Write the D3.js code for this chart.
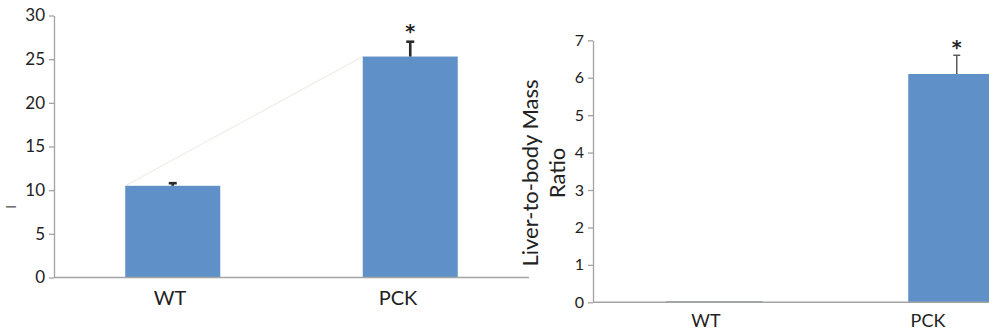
<!DOCTYPE html>
<html>
<head>
<meta charset="utf-8">
<script src="https://cdn.jsdelivr.net/npm/d3@7"></script>
<style>
  html, body { margin: 0; padding: 0; background: #fff; }
  svg { display: block; font-family: Lato, "Open Sans", sans-serif; }
</style>
</head>
<body>
<svg id="chart" width="989" height="333"></svg>
<script>
// Panel A: unlabeled measure, WT vs PCK
const groups = ["WT", "PCK"];
const leftValues = [10.5, 25.3];
const leftErrors = [0.3, 1.7];
const leftSignif = ["", "*"];
const leftTicks = [0, 5, 10, 15, 20, 25, 30];

// Panel B: liver-to-body mass ratio
const rightValues = [0.03, 6.1];
const rightErrors = [0, 0.5];
const rightSignif = ["", "*"];
const rightTicks = [0, 1, 2, 3, 4, 5, 6, 7];
const rightTitle = ["Liver-to-body Mass", "Ratio"];

const svg = d3.select("#chart");
const barColor = "#5f90c8";
const axisColor = "#a3a3a3";
const textColor = "#222";

function drawPanel(opt) {
  const g = svg.append("g");
  const y = d3.scaleLinear().domain(opt.domain).range([opt.y0, opt.y1]);
  const x = d3.scalePoint().domain(groups).range(opt.xRange).padding(0.5);
  const xl = d3.scalePoint().domain(groups).range(opt.labelRange).padding(0.5);
  const bw = x.step() * 0.4;

  // optional faint connector between bar tops
  if (opt.connector) {
    g.append("line")
      .attr("x1", x(groups[0]) - bw / 2).attr("y1", y(opt.values[0]))
      .attr("x2", x(groups[1]) - bw / 2).attr("y2", y(opt.values[1]))
      .attr("stroke", "#f1ecea").attr("stroke-width", 1.2);
  }

  // bars
  g.selectAll("rect.bar").data(groups).join("rect")
    .attr("class", "bar")
    .attr("x", d => x(d) - bw / 2)
    .attr("width", bw)
    .attr("y", (d, i) => y(opt.values[i]))
    .attr("height", (d, i) => Math.max(y(0) - y(opt.values[i]), opt.minH || 0))
    .attr("fill", (d, i) => (opt.thinColor && opt.values[i] < 0.1) ? opt.thinColor : barColor);

  // error bars
  groups.forEach((d, i) => {
    const e = opt.errors[i];
    if (!e) return;
    const cx = x(d);
    const top = y(opt.values[i] + e);
    g.append("line").attr("x1", cx).attr("x2", cx)
      .attr("y1", y(opt.values[i])).attr("y2", top)
      .attr("stroke", opt.errColor).attr("stroke-width", opt.errWidth);
    g.append("line").attr("x1", cx - opt.capW / 2).attr("x2", cx + opt.capW / 2)
      .attr("y1", top).attr("y2", top)
      .attr("stroke", opt.errColor).attr("stroke-width", opt.errWidth);
    if (opt.signif[i]) {
      g.append("text").attr("x", cx).attr("y", top - opt.starGap)
        .attr("text-anchor", "middle")
        .attr("font-family", "DejaVu Sans, sans-serif")
        .attr("font-size", 19).attr("font-weight", "bold")
        .attr("fill", textColor).text(opt.signif[i]);
    }
  });

  // y axis
  const yAxis = d3.axisLeft(y).tickValues(opt.ticks).tickFormat(d3.format("d"))
    .tickSize(5).tickPadding(4).tickSizeOuter(0);
  const ya = g.append("g").attr("transform", `translate(${opt.xAxisStart},0)`).call(yAxis);
  ya.select(".domain").attr("stroke", axisColor).attr("stroke-width", 1.3);
  ya.selectAll(".tick line").attr("stroke", axisColor).attr("stroke-width", 1.3);
  ya.selectAll(".tick text").attr("font-size", opt.tickFont).attr("fill", textColor)
    .attr("font-family", "Lato, sans-serif");

  // x baseline
  g.append("line")
    .attr("x1", opt.xAxisStart).attr("x2", opt.xAxisEnd)
    .attr("y1", y(0)).attr("y2", y(0))
    .attr("stroke", axisColor).attr("stroke-width", 1.5);

  // category labels
  g.selectAll("text.cat").data(groups).join("text")
    .attr("class", "cat")
    .attr("x", d => xl(d))
    .attr("y", y(0) + opt.labelDy)
    .attr("text-anchor", "middle")
    .attr("font-size", opt.labelFont)
    .attr("fill", textColor)
    .text(d => d);
  return { g, x, y };
}

drawPanel({
  domain: [0, 30], y0: 277.5, y1: 15.5,
  xRange: [54, 529], labelRange: [56, 512],
  xAxisStart: 54, xAxisEnd: 529,
  values: leftValues, errors: leftErrors, signif: leftSignif, ticks: leftTicks,
  errColor: "#2b2b2b", errWidth: 2.6, capW: 8, starGap: 4,
  tickFont: 17, labelFont: 20, labelDy: 27, connector: true
});

drawPanel({
  domain: [0, 7], y0: 302.3, y1: 40.3,
  xRange: [593, 1078], labelRange: [595, 1039],
  xAxisStart: 593, xAxisEnd: 989,
  values: rightValues, errors: rightErrors, signif: rightSignif, ticks: rightTicks,
  errColor: "#5a5a5a", errWidth: 1.5, capW: 7, starGap: 1,
  tickFont: 16, labelFont: 18, labelDy: 25, minH: 1.5, thinColor: "#8d97a8"
});

// rotated y-axis title of panel B
const title = svg.append("text")
  .attr("transform", "translate(545,173) rotate(-90)")
  .attr("text-anchor", "middle")
  .attr("font-size", 22)
  .attr("fill", textColor);
title.selectAll("tspan").data(rightTitle).join("tspan")
  .attr("x", 0)
  .attr("dy", (d, i) => i === 0 ? -7 : 27)
  .text(d => d);

// small clipped glyph left of panel A's axis
svg.append("text")
  .attr("transform", "translate(16,207) rotate(-90)")
  .attr("text-anchor", "middle")
  .attr("font-size", 13)
  .attr("fill", "#555")
  .text("I");
</script>
</body>
</html>
